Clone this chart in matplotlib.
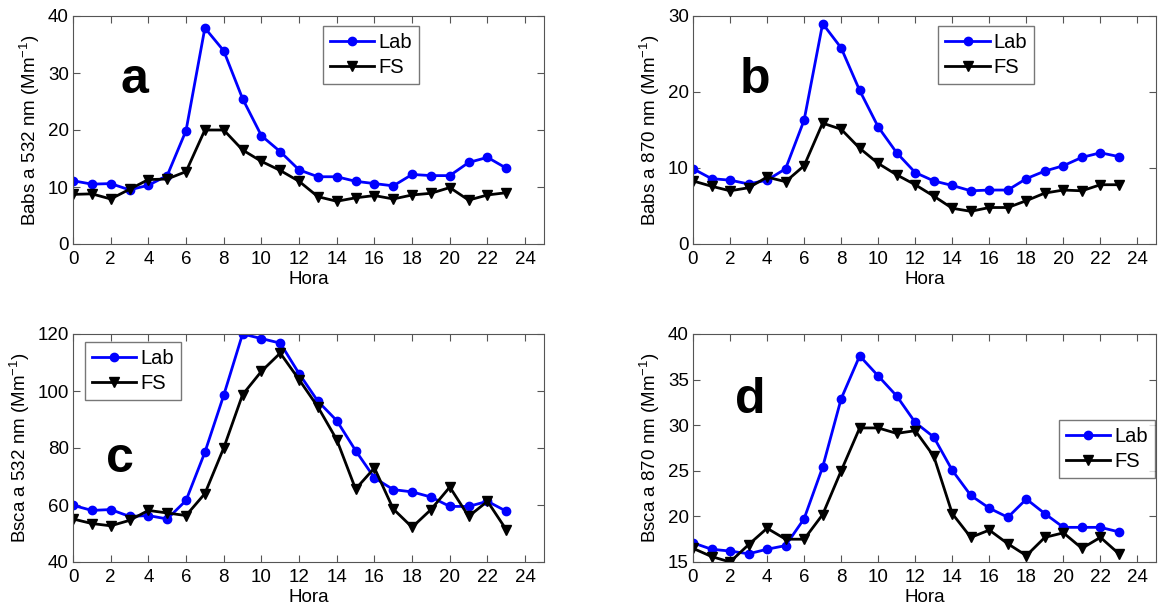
import matplotlib.pyplot as plt

plt.rcParams['font.family'] = ['Liberation Sans', 'DejaVu Sans']
plt.rcParams['mathtext.default'] = 'regular'

hours = list(range(24))

# a: Babs 532 nm
lab_a = [11.1, 10.5, 10.6, 9.5, 10.3, 12.0, 19.9, 37.9, 33.9, 25.5, 19.0, 16.2,
         13.0, 11.8, 11.8, 11.0, 10.6, 10.2, 12.2, 12.0, 12.0, 14.3, 15.2, 13.3]
fs_a = [8.7, 8.8, 7.9, 9.6, 11.3, 11.4, 12.7, 20.0, 20.0, 16.5, 14.5, 12.9,
        11.0, 8.3, 7.5, 8.1, 8.5, 7.9, 8.6, 8.9, 9.9, 7.7, 8.6, 9.0]

# b: Babs 870 nm
lab_b = [9.9, 8.6, 8.4, 7.9, 8.4, 9.9, 16.3, 29.0, 25.8, 20.2, 15.4, 12.0,
         9.4, 8.3, 7.7, 7.0, 7.1, 7.1, 8.6, 9.6, 10.3, 11.4, 12.0, 11.5]
fs_b = [8.3, 7.6, 7.0, 7.4, 8.8, 8.2, 10.3, 15.9, 15.1, 12.6, 10.6, 9.1,
        7.8, 6.3, 4.7, 4.3, 4.8, 4.8, 5.7, 6.7, 7.1, 7.0, 7.8, 7.8]

# c: Bsca 532 nm
lab_c = [59.9, 58.1, 58.4, 56.0, 56.3, 55.1, 61.6, 78.5, 98.5, 120.0, 118.4, 116.8,
         106.1, 96.4, 89.6, 79.1, 69.5, 65.4, 64.6, 62.8, 59.5, 59.5, 61.3, 57.8]
fs_c = [55.1, 53.5, 52.7, 54.6, 58.1, 57.2, 56.3, 64.0, 80.0, 98.7, 106.9, 113.3,
        104.0, 94.4, 82.9, 65.6, 73.0, 58.6, 52.2, 58.4, 66.3, 56.0, 61.3, 51.3]

# d: Bsca 870 nm
lab_d = [17.1, 16.4, 16.2, 15.9, 16.4, 16.8, 19.75, 25.4, 32.9, 37.6, 35.4, 33.2,
         30.3, 28.7, 25.05, 22.3, 20.9, 19.9, 21.9, 20.3, 18.8, 18.8, 18.8, 18.3]
fs_d = [16.5, 15.6, 15.0, 16.9, 18.7, 17.5, 17.5, 20.2, 25.0, 29.7, 29.7, 29.1,
        29.4, 26.6, 20.3, 17.7, 18.5, 17.0, 15.7, 17.7, 18.2, 16.5, 17.7, 15.9]

W, H = 1161, 610
fig = plt.figure(figsize=(W / 100, H / 100), dpi=100)

panels = [
    # (left, top, right, bottom) px, lab, fs, ylim, yticks, ylabel, letter, letter pos, legend pos
    ((73, 16, 544, 244), lab_a, fs_a, (0, 40), range(0, 41, 10),
     'Babs a 532 nm (Mm$^{-1}$)', 'a', (0.1, 0.72), (0.53, 0.7)),
    ((693, 16, 1156, 244), lab_b, fs_b, (0, 30), range(0, 31, 10),
     'Babs a 870 nm (Mm$^{-1}$)', 'b', (0.1, 0.72), (0.53, 0.7)),
    ((73, 334, 544, 562), lab_c, fs_c, (40, 120), range(40, 121, 20),
     'Bsca a 532 nm (Mm$^{-1}$)', 'c', (0.07, 0.45), (0.025, 0.71)),
    ((693, 334, 1156, 562), lab_d, fs_d, (15, 40), range(15, 41, 5),
     'Bsca a 870 nm (Mm$^{-1}$)', 'd', (0.09, 0.71), (0.79, 0.37)),
]

for (l, t, r, b), lab, fs, ylim, yticks, ylabel, letter, lpos, legpos in panels:
    ax = fig.add_axes([l / W, 1 - b / H, (r - l) / W, (b - t) / H])
    ax.plot(hours, lab, color='blue', marker='o', markersize=6, linewidth=2, label='Lab')
    ax.plot(hours, fs, color='black', marker='v', markersize=7, linewidth=2, label='FS')
    ax.set_xlim(0, 25)
    ax.set_xticks(range(0, 25, 2))
    ax.set_ylim(*ylim)
    ax.set_yticks(list(yticks))
    ax.tick_params(direction='in', top=True, right=True, labelsize=13.5, length=5,
                   color='#555555')
    ax.tick_params(axis='x', pad=5)
    ax.tick_params(axis='y', pad=3)
    for s in ax.spines.values():
        s.set_color('#555555')
    ax.set_xlabel('Hora', fontsize=13.5, labelpad=2)
    ax.set_ylabel(ylabel, fontsize=13.5, labelpad=4)
    ax.text(lpos[0], lpos[1], letter, transform=ax.transAxes, fontsize=36,
            fontweight='bold', va='center', ha='left')
    ax.legend(loc='lower left', bbox_to_anchor=legpos, fontsize=14.5, frameon=True,
              fancybox=False, edgecolor='#555555', handlelength=2.2,
              borderpad=0.35, labelspacing=0.3, handletextpad=0.2, borderaxespad=0)

fig.savefig('out.png', dpi=100)
